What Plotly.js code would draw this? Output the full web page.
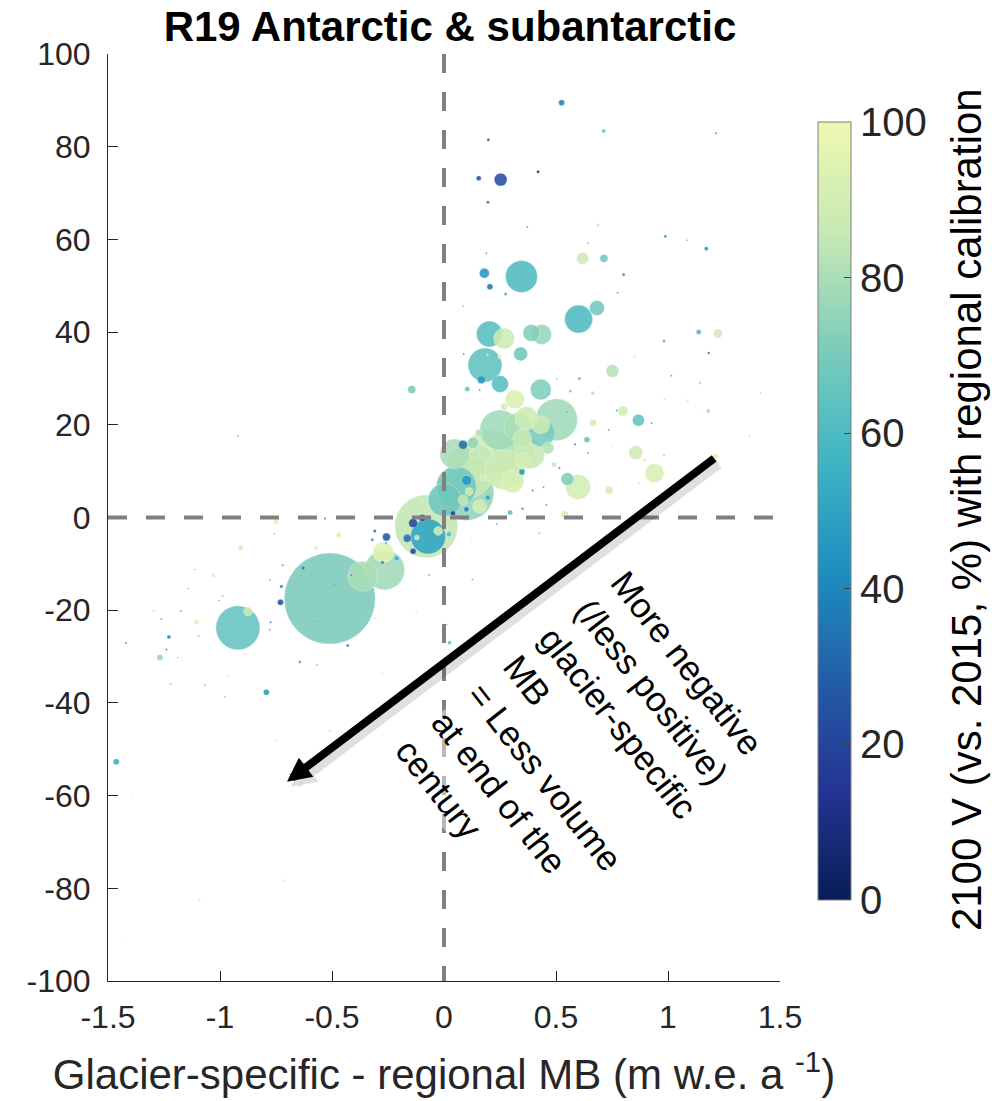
<!DOCTYPE html>
<html><head><meta charset="utf-8">
<script src="https://cdn.plot.ly/plotly-3.0.1.min.js"></script>
<style>body{margin:0;background:#fff}#chart{width:992px;height:1101px}</style>
</head><body><div id="chart"></div>
<script>
// Glacier-specific minus regional MB (m w.e. a-1)
const mbDiff = [0.525,0.713,1.214,0.198,0.155,0.253,0.420,0.196,0.372,0.688,0.988,1.085,1.171,0.642,0.189,0.619,0.714,0.180,0.346,0.205,
0.275,0.802,0.775,0.085,0.601,0.683,0.203,0.268,0.390,0.436,0.342,1.137,1.223,0.982,1.182,0.851,0.183,0.249,0.195,0.332,
0.752,1.015,0.604,0.503,-0.144,0.104,0.159,0.167,0.250,0.316,0.268,0.432,0.502,0.368,0.330,0.432,0.435,0.350,0.464,0.156,
0.085,0.129,0.204,0.308,0.305,0.348,0.101,0.055,0.539,0.551,0.598,0.737,0.856,0.939,0.799,0.868,0.665,0.638,0.491,1.213,
1.365,0.982,1.088,1.125,1.180,1.143,0.984,0.664,0.564,0.735,0.750,0.896,0.872,0.585,0.643,0.396,0.351,0.295,0.236,0.426,
0.457,0.515,1.414,0.927,0.771,0.467,0.549,0.444,0.088,
0.100,-0.079,0.249,0.115,0.003,-0.265,-0.362,-0.271,-0.071,-0.510,-0.920,-0.875,-0.138,-0.097,-0.257,-0.164,-0.138,-0.211,-0.026,0.040,
0.100,0.196,0.025,-0.121,0.022,0.112,0.159,0.085,0.175,0.330,0.353,0.137,-0.309,-0.320,-0.259,-0.275,-0.067,0.122,0.127,-0.123,
-0.275,0.011,-0.433,-0.531,-0.413,-0.488,-0.306,-0.430,
-0.730,-0.726,-0.629,-0.720,-0.774,-0.778,-0.777,-0.563,-0.644,-0.567,-0.793,-0.751,-0.757,-0.470,-0.571,-0.908,-1.029,-1.105,-1.096,-1.175,
-1.141,-1.112,-1.262,-1.296,-1.228,-1.239,-1.189,-1.268,-1.420,-0.920,-0.988,-1.003,-1.220,-1.068,-0.978,-0.960,-0.888,-1.463,-1.391,-0.711,
-1.093,-1.434,-0.509,-0.751,-0.100,
0.124,0.271,0.048,0.383];
// Volume difference (%)
const volDiff = [89.5,83.4,82.9,81.5,73.2,72.9,74.6,68.0,62.7,63.1,60.7,59.8,58.0,59.2,57.0,55.9,55.9,52.7,52.0,49.8,
48.2,52.4,48.5,45.6,42.8,45.2,39.6,38.6,39.8,39.5,35.3,40.0,39.7,38.1,35.5,34.7,32.9,34.7,35.1,33.4,
31.6,30.6,30.0,29.9,27.6,27.7,27.5,29.7,28.8,25.5,23.9,27.6,21.1,21.4,19.6,20.0,18.2,17.0,15.0,18.3,
15.7,16.1,13.2,13.9,7.8,9.8,8.0,6.7,0.6,8.3,6.6,5.9,14.0,9.6,23.0,21.0,20.4,16.8,11.4,13.2,
17.5,13.5,25.2,23.6,23.0,29.0,25.5,26.8,27.3,18.9,15.4,12.4,7.4,15.8,13.9,5.8,1.9,1.1,-1.4,-3.4,
2.7,10.7,26.8,20.4,23.1,26.7,22.7,6.5,35.3,
5.3,-1.9,18.9,9.2,3.8,-11.3,-12.7,-7.5,-4.1,-17.5,-23.8,-20.3,-1.2,-0.1,-4.2,-4.5,-7.3,-8.8,-2.9,0.9,
1.8,4.3,-27.0,-4.3,-3.6,5.6,2.4,3.8,8.5,10.3,12.4,13.7,-2.9,-4.8,-5.5,-9.7,-12.4,-5.2,-13.4,-20.3,
-33.6,-23.1,0.1,-0.2,-12.4,-14.4,-21.7,-27.6,
-18.3,-14.9,-10.9,-10.3,-22.6,-24.2,-13.5,-22.4,-31.2,-31.8,-37.7,-0.9,-3.5,-3.8,-6.6,-6.5,-12.5,-22.6,-25.5,-20.2,
-15.3,-11.2,-21.9,-20.1,-25.8,-28.5,-30.2,-30.2,-27.1,17.6,-17.0,-17.9,-35.9,-36.2,-38.7,-34.1,-29.3,-52.7,-59.9,-78.3,
-82.6,-91.0,-46.0,-48.1,-45.4,
10.7,10.3,13.7,13.7];
// Glacier area (relative units, bubble area)
const glacierArea = [9,4,1,2.3,6.3,42,2.3,2.3,1,2.3,2.3,0.6,4,0.6,1,36,16,25,256,9,
2.3,2.3,1,0.6,196,56,169,110,72,100,49,6.3,20,2.3,1.6,1,289,4,1,1,
42,1,2.3,0.6,16,6.3,1,16,72,90,12,110,441,132,196,81,182,90,36,12,
20,30,702,400,132,9,25,400,16,42,156,16,49,90,25,36,12,9,6.3,6.3,
2.3,2.3,2.3,1,4,2.3,1,4,2.3,1,1,2.3,1,1,1,1,1.6,6.3,1,0.6,
1,1,0.6,1,1,1,1,1,1,
756,992,400,506,272,400,225,110,306,2070,484,20,20,12,16,16,9,6.3,20,6.3,
6.3,6.3,4,6.3,6.3,16,49,25,12,16,56,25,2.3,2.3,2.3,3.1,1,1,1,1,
1,1,2.3,1,1,1,1,2.3,
9,3.1,4,1,1,1,0.6,1,1.6,0.6,9,6.3,0.6,6.3,4,6.3,4,6.3,2.3,1,
0.6,0.6,1,2.3,4,1,0.6,9,1,1,0.6,0.6,0.6,0.6,0.6,0.6,0.6,9,0.6,2.3,
2.3,0.6,1,1,0.6,
625,400,225,225];
// 2100 volume (vs. 2015, %) with regional calibration
const vol2100 = [38,65,30,25,25,22,5,30,40,85,45,35,42,30,45,88,68,45,60,35,
50,42,48,45,60,68,62,88,72,76,67,58,88,55,25,85,64,95,85,85,
82,45,55,45,70,65,45,45,62,93,90,72,78,88,80,88,70,85,82,82,
33,75,88,82,92,45,45,68,92,72,90,90,88,92,90,65,88,65,85,92,
95,85,95,95,78,80,85,82,65,45,92,92,80,15,40,20,40,62,48,35,
40,20,60,40,40,40,45,45,40,
75,85,78,85,68,78,80,95,50,70,65,88,20,15,25,32,20,55,90,18,
35,50,65,90,60,90,90,85,90,88,90,85,20,40,65,40,45,92,60,92,
92,65,25,20,20,40,80,40,
22,40,40,30,30,45,25,40,35,35,45,92,40,92,90,92,95,92,85,50,
40,55,45,95,40,35,55,75,25,55,30,30,35,35,45,75,75,52,85,95,
95,95,80,80,95,
85,88,80,86];

const xTickVals = [-1.5,-1,-0.5,0,0.5,1,1.5];
const xTickText = ['-1.5','-1','-0.5','0','0.5','1','1.5'];
const yTickVals = [-100,-80,-60,-40,-20,0,20,40,60,80,100];
const yTickText = ['-100','-80','-60','-40','-20','0','20','40','60','80','100'];
const cbTickVals = [0,20,40,60,80,100];
const cbTitle = '2100 V (vs. 2015, %) with regional calibration';
const arrowTail = {x:1.213, y:13.0};
const arrowHead = {x:-0.701, y:-57.0};
const noteText = 'More negative<br>(/less positive)<br>glacier-specific<br>MB<br>= Less volume<br>at end of the<br>century';

const colorscale = [[0,'#081d58'],[1/7,'#253494'],[2/7,'#225ea8'],[3/7,'#1d91c0'],[4/7,'#41b6c4'],[5/7,'#7fcdbb'],[6/7,'#c7e9b4'],[1,'#edf8b1']];

// draw large bubbles first so small ones stay visible
const order = mbDiff.map((_,i)=>i).sort((a,b)=>glacierArea[b]-glacierArea[a]);
const FONT = 'Liberation Sans, Arial, Helvetica, sans-serif';

const trace = {
  type:'scatter', mode:'markers',
  x: order.map(i=>mbDiff[i]),
  y: order.map(i=>volDiff[i]),
  hoverinfo:'skip', showlegend:false,
  marker:{
    size: order.map(i=>glacierArea[i]),
    sizemode:'area', sizeref:0.5, sizemin:0.6,
    color: order.map(i=>vol2100[i]),
    colorscale: colorscale, cmin:0, cmax:100,
    opacity:0.87,
    line:{color:'rgba(255,255,255,0.55)', width:0.6},
    colorbar:{
      thickness:33, len:0.839, lenmode:'fraction', y:0.507, yanchor:'middle',
      x:1.0565, xanchor:'left', xpad:0, ypad:0,
      outlinewidth:1, outlinecolor:'#7f7f7f',
      ticks:'inside', ticklen:7, tickcolor:'#404040', tickwidth:1,
      tickvals: cbTickVals,
      tickfont:{family:FONT, size:40, color:'#262626'}
    }
  }
};

const layout = {
  width:992, height:1101,
  margin:{l:108, r:212, t:54, b:120},
  paper_bgcolor:'#fff', plot_bgcolor:'#fff',
  font:{family:FONT, color:'#262626'},
  title:{text:'<b>R19 Antarctic &amp; subantarctic</b>', font:{family:FONT, size:42, color:'#000'},
         xref:'container', x:0.4536, xanchor:'center', yref:'container', y:0.976, yanchor:'middle'},
  xaxis:{range:[-1.5,1.5], tickvals:xTickVals, ticktext:xTickText, ticks:'inside', ticklen:10, tickwidth:1,
         tickcolor:'#262626', showline:true, linecolor:'#262626', linewidth:1, showgrid:false, zeroline:false,
         tickfont:{family:FONT, size:32, color:'#262626'}, ticklabelstandoff:8,
         title:{text:'Glacier-specific - regional MB (m w.e. a <sup>-1</sup>)', font:{family:FONT, size:42, color:'#262626'}, standoff:25}},
  yaxis:{range:[-100,100], tickvals:yTickVals, ticktext:yTickText, ticks:'inside', ticklen:10, tickwidth:1,
         tickcolor:'#262626', showline:true, linecolor:'#262626', linewidth:1, showgrid:false, zeroline:false,
         tickfont:{family:FONT, size:32, color:'#262626'}, ticklabelstandoff:10},
  shapes:[
    {type:'line', xref:'x', yref:'y', x0:0, x1:0, y0:100, y1:-100, line:{color:'#808080', width:4, dash:'19px,19px'}, layer:'above'},
    {type:'line', xref:'x', yref:'y', x0:-1.5, x1:1.5, y0:0, y1:0, line:{color:'#808080', width:4, dash:'19px,19px'}, layer:'above'}
  ],
  annotations:[
    {x:arrowHead.x, y:arrowHead.y, ax:arrowTail.x, ay:arrowTail.y, xref:'x', yref:'y', axref:'x', ayref:'y',
     text:'', showarrow:true, arrowhead:2, arrowsize:0.45, arrowwidth:11, arrowcolor:'rgba(0,0,0,0.12)', standoff:0, xshift:4, yshift:-5},
    {x:arrowHead.x, y:arrowHead.y, ax:arrowTail.x, ay:arrowTail.y, xref:'x', yref:'y', axref:'x', ayref:'y',
     text:'', showarrow:true, arrowhead:2, arrowsize:0.6, arrowwidth:8, arrowcolor:'#000', standoff:0},
    {x:0.62, y:-50.3, xref:'x', yref:'y', text:noteText, showarrow:false, textangle:52, align:'left',
     xanchor:'center', yanchor:'middle', font:{family:FONT, size:35, color:'#000'}, bgcolor:'rgba(255,255,255,0.45)'},
    {x:1.2768, y:0.508, xref:'paper', yref:'paper', text:cbTitle, showarrow:false, textangle:-90,
     xanchor:'center', yanchor:'middle', font:{family:FONT, size:42, color:'#000'}}
  ]
};

Plotly.newPlot('chart', [trace], layout, {displayModeBar:false, staticPlot:true});
</script>
</body></html>
